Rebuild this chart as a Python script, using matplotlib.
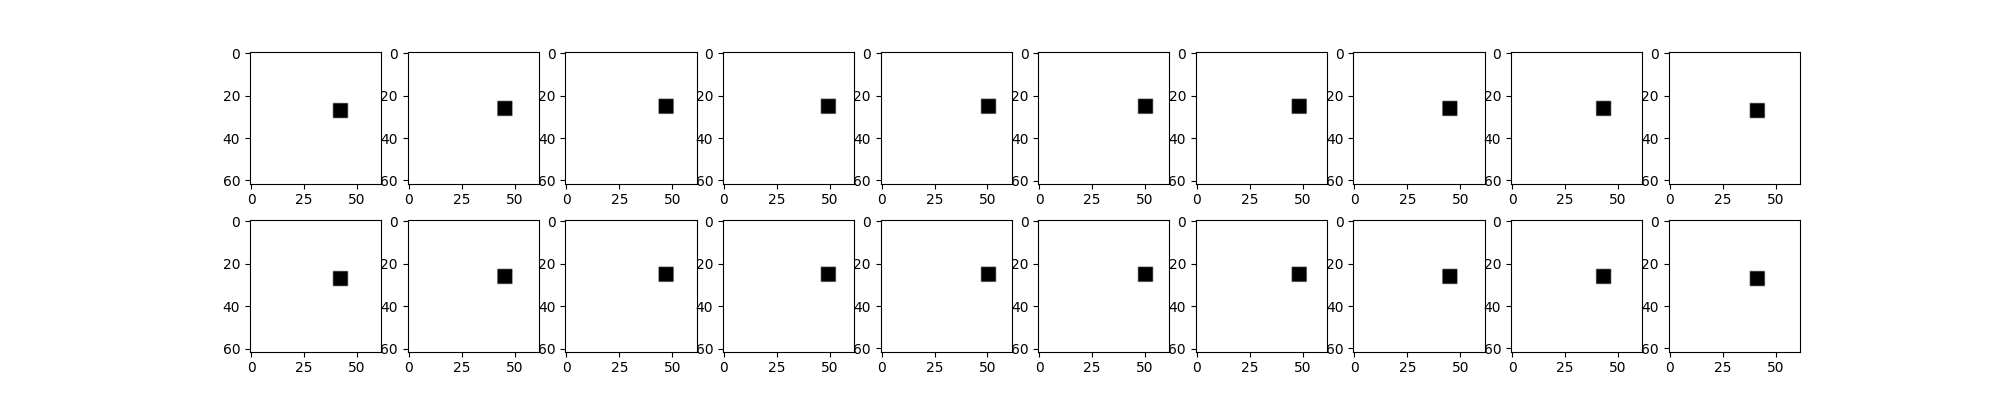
import matplotlib
matplotlib.use('Agg')
import matplotlib.pyplot as plt
import numpy as np

# top-left corner (col, row) of the 7x7 black square in each frame
sq_x = [39, 42, 44, 46, 47, 47, 45, 42, 40, 38]
sq_y = [24, 23, 22, 22, 22, 22, 22, 23, 23, 24]
SIZE = 62
SQ = 7

fig, axes = plt.subplots(2, 10, figsize=(20, 4))
for r in range(2):
    for i in range(10):
        img = np.ones((SIZE, SIZE))
        img[sq_y[i]:sq_y[i] + SQ, sq_x[i]:sq_x[i] + SQ] = 0
        axes[r, i].imshow(img, cmap='gray', vmin=0, vmax=1)

fig.savefig('out.png', dpi=100)
